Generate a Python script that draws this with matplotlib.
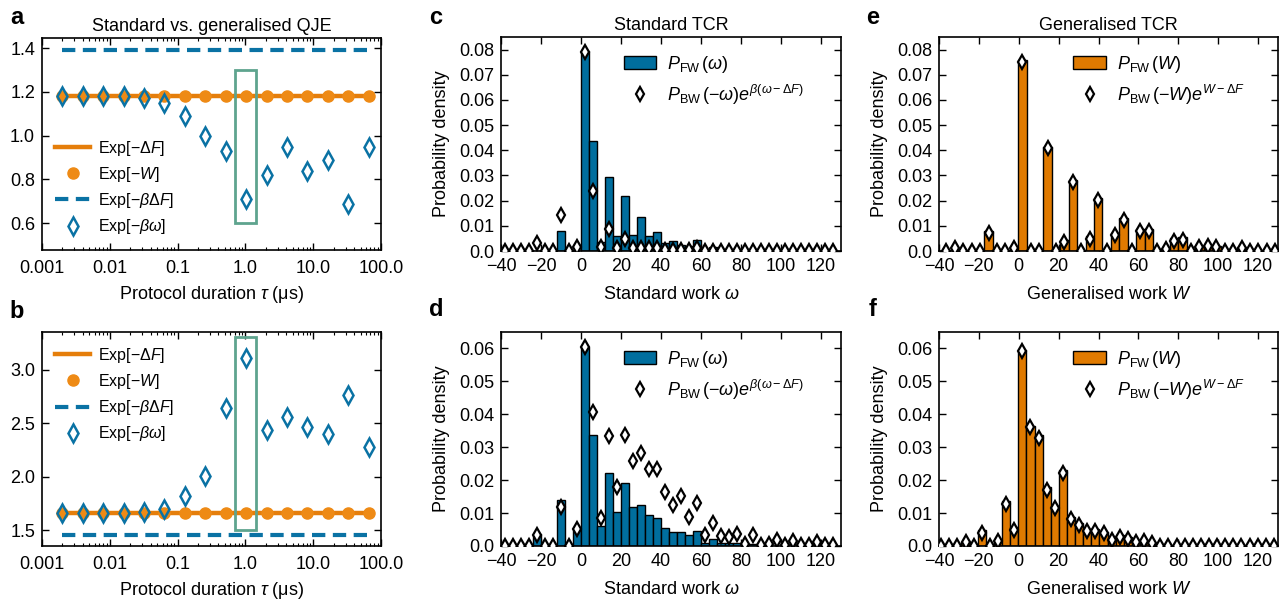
import numpy as np
import matplotlib.pyplot as plt
from matplotlib.patches import Rectangle

plt.rcParams['font.family'] = ['Liberation Sans', 'DejaVu Sans']
plt.rcParams['mathtext.fontset'] = 'custom'
plt.rcParams['mathtext.rm'] = 'Liberation Sans'
plt.rcParams['mathtext.it'] = 'Liberation Sans:italic'
plt.rcParams['mathtext.bf'] = 'Liberation Sans:bold'

# panels a, b : Jarzynski estimates vs protocol duration
tau = [0.002, 0.004, 0.008, 0.016, 0.032, 0.064, 0.128, 0.256,
       0.512, 1.024, 2.048, 4.096, 8.192, 16.384, 32.768, 65.536]

exp_dF_a = 1.18
exp_bdF_a = 1.39
exp_W_a = [1.18, 1.18, 1.18, 1.18, 1.18, 1.18, 1.18, 1.18,
           1.18, 1.18, 1.18, 1.18, 1.18, 1.18, 1.18, 1.18]
exp_bw_a = [1.18, 1.18, 1.18, 1.18, 1.17, 1.15, 1.09, 1.00,
            0.93, 0.71, 0.82, 0.95, 0.84, 0.89, 0.69, 0.95]

exp_dF_b = 1.66
exp_bdF_b = 1.455
exp_W_b = [1.66, 1.66, 1.66, 1.66, 1.66, 1.66, 1.66, 1.66,
           1.66, 1.66, 1.66, 1.66, 1.66, 1.66, 1.66, 1.66]
exp_bw_b = [1.66, 1.66, 1.66, 1.66, 1.67, 1.70, 1.82, 2.01,
            2.64, 3.11, 2.44, 2.56, 2.46, 2.40, 2.76, 2.28]

# panels c, d : standard work histograms (bin width 4)
w_std = np.arange(-38, 127, 4)
pfw_c = [0, 0, 0, 0, 0, 0, 0, 0.0080, 0, 0, 0.0793, 0.0435, 0.0036, 0.0292,
         0.0060, 0.0220, 0.0065, 0.0136, 0.0060, 0.0077, 0.0030, 0.0040, 0.0025,
         0.0020, 0.0045, 0.0008, 0.0015, 0.0003, 0, 0, 0, 0, 0, 0, 0, 0, 0, 0,
         0, 0, 0, 0]
pbw_c = [0, 0, 0, 0, 0.0030, 0, 0, 0.0142, 0, 0.0015, 0.0790, 0.0240, 0.0015,
         0.0088, 0.0013, 0.0047, 0.0010, 0.0012, 0.0012, 0.0010, 0.0005, 0.0005,
         0.0005, 0.0003, 0.0013, 0, 0, 0, 0, 0, 0, 0, 0, 0, 0, 0, 0, 0, 0, 0, 0, 0]
pfw_d = [0, 0, 0, 0, 0.0035, 0, 0, 0.0141, 0, 0.0048, 0.0603, 0.0336, 0.0061,
         0.0222, 0.0102, 0.0192, 0.0118, 0.0124, 0.0094, 0.0084, 0.0055, 0.0044,
         0.0042, 0.0032, 0.0046, 0.0010, 0.0022, 0.0008, 0.0008, 0.0008, 0.0004,
         0.0007, 0, 0, 0, 0, 0, 0, 0, 0, 0, 0]
pbw_d = [0, 0, 0, 0, 0.0032, 0, 0, 0.0119, 0, 0.0051, 0.0603, 0.0407, 0.0084,
         0.0333, 0.0179, 0.0337, 0.0258, 0.0283, 0.0233, 0.0233, 0.0165, 0.0125,
         0.0153, 0.0089, 0.0132, 0.0032, 0.0071, 0.0030, 0.0028, 0.0036, 0.0005,
         0.0033, 0.0004, 0.0005, 0.0019, 0.0004, 0.0014, 0.0004, 0.0003, 0.0012,
         0.0003, 0.0003]

# panels e, f : generalised work histograms
w_gen_e = -36.3 + 4.23 * np.arange(40)
w_gen_f = -38.9 + 4.07 * np.arange(42)
pfw_e = [0, 0, 0, 0, 0, 0.0080, 0, 0, 0.0012, 0.0758, 0, 0, 0.0415, 0, 0.0043,
         0.0282, 0, 0.0059, 0.0209, 0, 0.0072, 0.0132, 0, 0.0087, 0.0089, 0,
         0.0008, 0.0050, 0.0056, 0, 0.0019, 0.0020, 0.0019, 0, 0, 0.0015, 0, 0,
         0, 0]
pbw_e = [0, 0.0012, 0, 0, 0, 0.0072, 0, 0, 0.0012, 0.0751, 0, 0, 0.0410, 0,
         0.0036, 0.0275, 0, 0.0049, 0.0202, 0, 0.0063, 0.0122, 0, 0.0079, 0.0081,
         0, 0.0008, 0.0040, 0.0045, 0, 0.0017, 0.0018, 0.0017, 0, 0, 0.0013, 0,
         0, 0, 0]
pfw_f = [0, 0, 0, 0.0012, 0, 0.0048, 0, 0.0018, 0.0137, 0.0058, 0.0596, 0.0366,
         0.0336, 0.0179, 0.0121, 0.0230, 0.0087, 0.0069, 0.0052, 0.0052, 0.0044,
         0.0023, 0.0033, 0.0028, 0.0015, 0.0018, 0.0008, 0, 0, 0, 0, 0, 0, 0, 0,
         0, 0, 0, 0, 0, 0, 0]
pbw_f = [0, 0, 0, 0.0012, 0, 0.0041, 0, 0.0016, 0.0129, 0.0048, 0.0591, 0.0360,
         0.0328, 0.0171, 0.0114, 0.0223, 0.0082, 0.0063, 0.0045, 0.0045, 0.0038,
         0.0018, 0.0028, 0.0021, 0.0012, 0.0015, 0.0008, 0, 0, 0, 0, 0, 0, 0, 0,
         0, 0, 0, 0, 0, 0, 0]

orange = '#E57E0B'
orange_m = '#EE8A15'
blue = '#0A72A4'
bar_blue = '#006E9E'
bar_orange = '#E07A00'
green = '#5EA48E'

W, H = 1284, 602
fig = plt.figure(figsize=(W / 100, H / 100), dpi=100)


def add_ax(l, r, t, b):
    return fig.add_axes([l / W, 1 - b / H, (r - l) / W, (b - t) / H])


def style(ax, xpad):
    ax.tick_params(which='both', direction='in', top=True, right=True, labelsize=13)
    ax.tick_params(axis='x', which='both', pad=xpad)
    ax.tick_params(axis='y', which='both', pad=5)
    ax.tick_params(which='major', length=5, width=1)
    ax.tick_params(which='minor', length=2.5, width=0.8)
    for s in ax.spines.values():
        s.set_linewidth(1.2)


def qje_panel(ax, w_vals, bw_vals, dF, bdF, box_y, ylim, yticks, leg_anchor):
    ax.plot(tau, [dF] * len(tau), color=orange, lw=3.2, label=r'Exp[$-\Delta F$]', zorder=2)
    ax.plot(tau, w_vals, 'o', color=orange_m, ms=8, ls='none', label=r'Exp[$-W$]', zorder=3)
    ax.plot(tau, [bdF] * len(tau), color=blue, lw=3, ls=(0, (3.2, 1.8)),
            label=r'Exp[$-\beta\Delta F$]', zorder=2)
    ax.plot(tau, bw_vals, 'd', mfc='none', mec=blue, mew=1.8, ms=9, ls='none',
            label=r'Exp[$-\beta\omega$]', zorder=4)
    ax.add_patch(Rectangle((0.7, box_y[0]), 1.43 - 0.7, box_y[1] - box_y[0],
                           fill=False, ec=green, lw=2, zorder=5))
    ax.set_xscale('log')
    ax.set_xlim(0.001, 100)
    ax.set_xticks([0.001, 0.01, 0.1, 1, 10, 100])
    ax.set_xticklabels(['0.001', '0.01', '0.1', '1.0', '10.0', '100.0'])
    ax.set_ylim(*ylim)
    ax.set_yticks(yticks)
    ax.set_yticklabels(['%.1f' % v for v in yticks])
    ax.set_xlabel(r'Protocol duration $\tau$ (μs)', fontsize=13, labelpad=5)
    style(ax, 7)
    ax.legend(loc='lower left', bbox_to_anchor=leg_anchor, frameon=False,
              fontsize=11.5, handlelength=2.2, handletextpad=0.5,
              labelspacing=0.45, borderaxespad=0)


def tcr_panel(ax, x, width, bars, dia, color, ylim, yticks, lab_fw, lab_bw, xlabel,
              leg_x, title=None):
    bc = ax.bar(x, bars, width=width, color=color, edgecolor='black', linewidth=1.0, zorder=2)
    ln, = ax.plot(x, dia, 'd', mfc='white', mec='black', mew=1.6, ms=7, ls='none', zorder=3)
    ax.set_xlim(-40, 130)
    ax.set_xticks([-40, -20, 0, 20, 40, 60, 80, 100, 120])
    ax.set_ylim(*ylim)
    ax.set_yticks(yticks)
    ax.set_yticklabels(['0.0'] + ['%.2f' % v for v in yticks[1:]])
    ax.set_ylabel('Probability density', fontsize=13, labelpad=6)
    ax.set_xlabel(xlabel, fontsize=13, labelpad=8)
    if title:
        ax.set_title(title, fontsize=13, pad=5)
    style(ax, 5)
    ax.legend([bc, ln], [lab_fw, lab_bw], loc='upper left', bbox_to_anchor=(leg_x, 0.955),
              frameon=False, fontsize=13, handlelength=1.8, handleheight=0.75,
              handletextpad=0.6, labelspacing=0.42, borderaxespad=0)


ax_a = add_ax(42, 381, 38, 250)
qje_panel(ax_a, exp_W_a, exp_bw_a, exp_dF_a, exp_bdF_a, (0.6, 1.3),
          (0.478, 1.446), [0.6, 0.8, 1.0, 1.2, 1.4], (0.02, 0.035))
ax_a.set_title('Standard vs. generalised QJE', fontsize=13, pad=5)

ax_b = add_ax(42, 381, 332, 546)
qje_panel(ax_b, exp_W_b, exp_bw_b, exp_dF_b, exp_bdF_b, (1.5, 3.3),
          (1.354, 3.35), [1.5, 2.0, 2.5, 3.0], (0.02, 0.45))

std_fw = r'$P_{\rm FW}\,(\omega)$'
std_bw = r'$P_{\rm BW}\,(-\omega)e^{\beta(\omega-\Delta F)}$'
gen_fw = r'$P_{\rm FW}\,(W)$'
gen_bw = r'$P_{\rm BW}\,(-W)e^{W-\Delta F}$'

ax_c = add_ax(501, 841, 37, 251)
tcr_panel(ax_c, w_std, 4, pfw_c, pbw_c, bar_blue, (0, 0.085),
          [0, 0.01, 0.02, 0.03, 0.04, 0.05, 0.06, 0.07, 0.08],
          std_fw, std_bw, r'Standard work $\omega$', 0.34, 'Standard TCR')

ax_d = add_ax(501, 841, 332, 546)
tcr_panel(ax_d, w_std, 4, pfw_d, pbw_d, bar_blue, (0, 0.065),
          [0, 0.01, 0.02, 0.03, 0.04, 0.05, 0.06],
          std_fw, std_bw, r'Standard work $\omega$', 0.34)

ax_e = add_ax(939, 1278, 37, 251)
tcr_panel(ax_e, w_gen_e, 4.23, pfw_e, pbw_e, bar_orange, (0, 0.085),
          [0, 0.01, 0.02, 0.03, 0.04, 0.05, 0.06, 0.07, 0.08],
          gen_fw, gen_bw, r'Generalised work $W$', 0.375, 'Generalised TCR')

ax_f = add_ax(939, 1278, 332, 546)
tcr_panel(ax_f, w_gen_f, 4.07, pfw_f, pbw_f, bar_orange, (0, 0.065),
          [0, 0.01, 0.02, 0.03, 0.04, 0.05, 0.06],
          gen_fw, gen_bw, r'Generalised work $W$', 0.375)

for letter, px, py in [('a', 17, 17), ('b', 17, 311), ('c', 436, 17),
                       ('d', 436, 310), ('e', 873, 17), ('f', 873, 310)]:
    fig.text(px / W, 1 - py / H, letter, fontsize=17, fontweight='bold',
             ha='center', va='center')

fig.savefig('out.png', dpi=100)
